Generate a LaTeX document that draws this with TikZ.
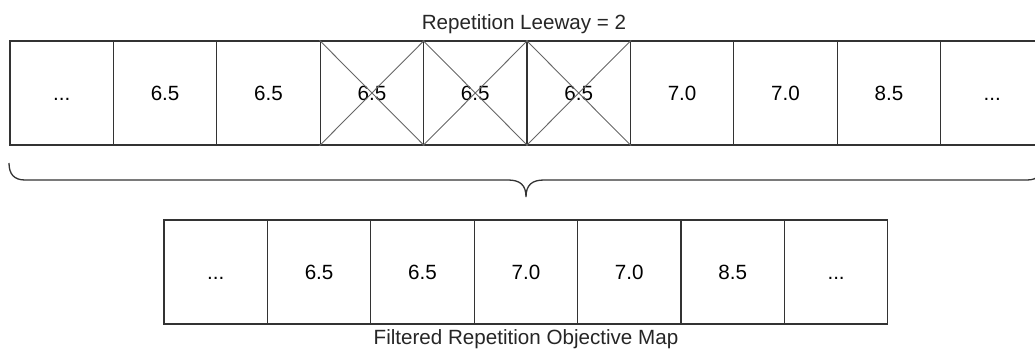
\documentclass[tikz,border=0pt]{standalone}
\usepackage{fontspec}
\setmainfont{Liberation Sans}
\usetikzlibrary{positioning}
\tikzset{%
  cell/.style={draw=black!80, line width=1.3pt, minimum width=103.4pt, minimum height=104pt,
               inner sep=0pt, text height=14.6pt, text depth=0pt, font=\fontsize{20.6}{24}\selectfont},
  cross/.style={draw=black!60, line width=0.9pt},
  caption/.style={anchor=base, font=\fontsize{20.6}{24}\selectfont, text=black!85},
}

\begin{document}
\begin{tikzpicture}[x=1pt, y=-1pt]
    \useasboundingbox (0,0) rectangle (1035,358);

    %top row
    \node[cell] (t1) at (61.7,93) {...};
    \node[cell] (t2) at (165.1,93) {6.5};
    \node[cell] (t3) at (268.5,93) {6.5};
    \node[cell] (t4) at (371.9,93) {6.5};
    \node[cell] (t5) at (475.3,93) {6.5};
    \node[cell] (t6) at (578.7,93) {6.5};
    \node[cell] (t7) at (682.1,93) {7.0};
    \node[cell] (t8) at (785.5,93) {7.0};
    \node[cell] (t9) at (888.9,93) {8.5};
    \node[cell] (t10) at (992.3,93) {...};
    \node[caption] (leeway) at (524,29.5) {Repetition Leeway = 2};

    % crossed out repeats
    \draw[cross] (t4.north west) -- (t4.south east) (t4.south west) -- (t4.north east);
    \draw[cross] (t5.north west) -- (t5.south east) (t5.south west) -- (t5.north east);
    \draw[cross] (t6.north west) -- (t6.south east) (t6.south west) -- (t6.north east);

    %brace under the top row
    \coordinate (bl) at (9,163);
    \coordinate (tip) at (526,197);
    \coordinate (br) at (1043,163);
    \draw[black!80, line width=1.3pt]
      (bl) .. controls (9,174) and (14,180) .. (25,180) -- (508,180)
      .. controls (520,180) and (526,185) .. (tip)
      .. controls (526,185) and (532,180) .. (544,180) -- (1027,180)
      .. controls (1038,180) and (1043,174) .. (br);

    %filtered row
    \node[cell] (b1) at (215.7,272) {...};
    \node[cell] (b2) at (319.1,272) {6.5};
    \node[cell] (b3) at (422.5,272) {6.5};
    \node[cell] (b4) at (525.9,272) {7.0};
    \node[cell] (b5) at (629.3,272) {7.0};
    \node[cell] (b6) at (732.7,272) {8.5};
    \node[cell] (b7) at (836.1,272) {...};
    \node[caption] (filtered) at (526,344) {Filtered Repetition Objective Map};
\end{tikzpicture}
\end{document}
